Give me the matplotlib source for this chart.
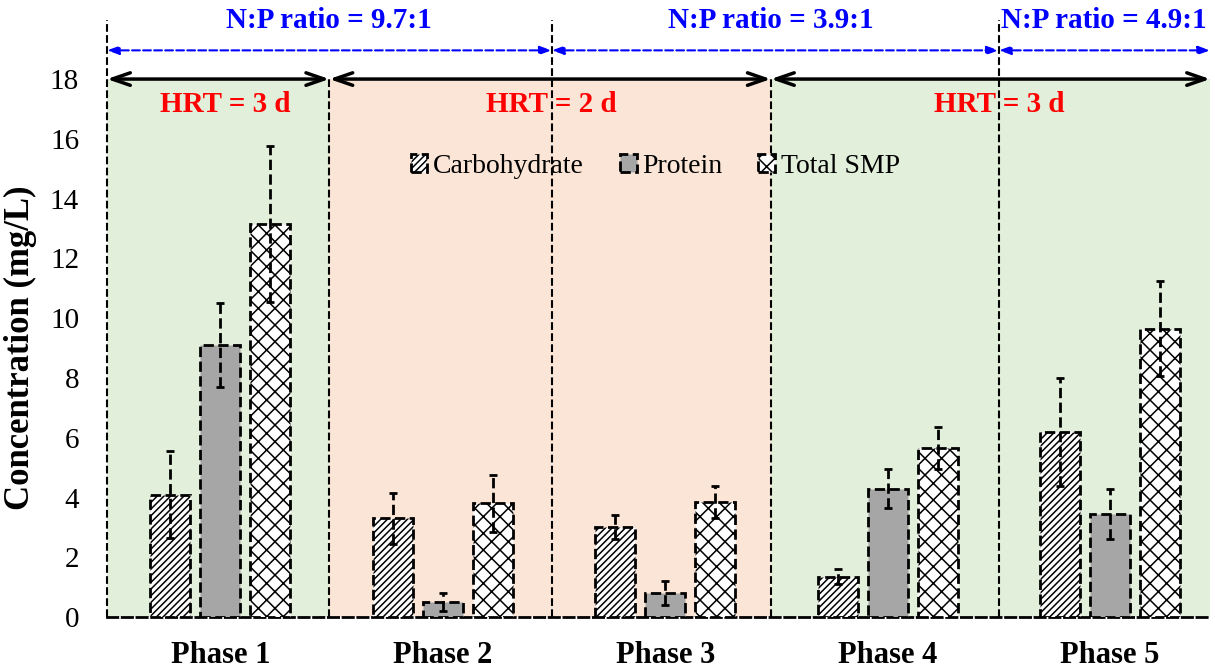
import numpy as np
import matplotlib.pyplot as plt

plt.rcParams['font.family'] = ['Liberation Serif', 'DejaVu Serif']
plt.rcParams['hatch.linewidth'] = 1.1

phases = ['Phase 1', 'Phase 2', 'Phase 3', 'Phase 4', 'Phase 5']
carb = [4.1, 3.3, 3.0, 1.35, 6.2]
carb_err = [1.45, 0.85, 0.4, 0.25, 1.8]
protein = [9.1, 0.5, 0.8, 4.3, 3.45]
protein_err = [1.4, 0.3, 0.4, 0.65, 0.85]
total = [13.15, 3.8, 3.85, 5.65, 9.65]
total_err = [2.6, 0.95, 0.55, 0.7, 1.6]

hrt_labels = ['HRT = 3 d', 'HRT = 2 d', 'HRT = 3 d']
np_labels = ['N:P ratio = 9.7:1', 'N:P ratio = 3.9:1', 'N:P ratio = 4.9:1']

x = np.arange(len(phases))
xmin, xmax = -0.51, 4.45
hrt_edges = [xmin, 0.49, 2.475, xmax]
np_edges = [xmin, 1.49, 3.5, xmax]

fig = plt.figure(figsize=(12.15, 6.7), dpi=100)
ax = fig.add_axes([0.088, 0.079, 0.908, 0.803])

# shaded HRT periods
bg = ['#E2EFDA', '#FBE5D6', '#E2EFDA']
for i in range(3):
    ax.axvspan(hrt_edges[i], hrt_edges[i + 1], color=bg[i], zorder=0, lw=0)

w = 0.18
d = 0.225
series = [
    (carb, carb_err, 'Carbohydrate', 'white', '/////'),
    (protein, protein_err, 'Protein', '#A6A6A6', None),
    (total, total_err, 'Total SMP', 'white', 'xx'),
]
for k, (vals, errs, lab, fc, hatch) in enumerate(series):
    xs = x + (k - 1) * d
    ax.bar(xs, vals, w, color=fc, hatch=hatch, edgecolor='black',
           linestyle='--', linewidth=2, label=lab, zorder=3)
    eb = ax.errorbar(xs, vals, yerr=errs, fmt='none', ecolor='black',
                     elinewidth=2, capsize=3, capthick=2, zorder=4)
    eb[2][0].set_linestyle('--')

ax.set_xlim(xmin, xmax)
ax.set_ylim(0, 18)
ax.set_yticks(np.arange(0, 19, 2))
ax.set_xticks(x)
ax.set_xticklabels(phases, fontsize=22, fontweight='bold')
ax.tick_params(axis='x', length=0, pad=17)
ax.tick_params(axis='y', length=0, labelsize=21, pad=20)
ax.set_ylabel('Concentration (mg/L)', fontsize=25, fontweight='bold')
ax.yaxis.set_label_coords(-0.063, 0.5)

for s in ['top', 'right', 'left']:
    ax.spines[s].set_visible(False)
ax.spines['bottom'].set_linestyle('--')
ax.spines['bottom'].set_linewidth(2)

# vertical dividers
for xv in [xmin, np_edges[1], np_edges[2]]:
    ax.plot([xv, xv], [0, 19.97], color='black', ls='--', lw=1.5,
            clip_on=False, zorder=2)
for xv in [hrt_edges[1], hrt_edges[2]]:
    ax.plot([xv, xv], [0, 18], color='black', ls='--', lw=1.5,
            clip_on=False, zorder=2)

# HRT arrows and labels
for i in range(3):
    ax.annotate('', xy=(hrt_edges[i + 1], 18), xytext=(hrt_edges[i], 18),
                arrowprops=dict(arrowstyle='<->,head_length=1.3,head_width=0.45',
                                color='black', lw=2.5, shrinkA=0, shrinkB=0),
                annotation_clip=False, zorder=5)
hrt_pos = [0.02, 1.49, 3.5]
for xp, t in zip(hrt_pos, hrt_labels):
    ax.text(xp, 17.15, t, color='red', fontsize=21, fontweight='bold',
            ha='center', va='center')

# N:P ratio arrows and labels
for i in range(3):
    ax.annotate('', xy=(np_edges[i + 1], 18.96), xytext=(np_edges[i], 18.96),
                arrowprops=dict(arrowstyle='<|-|>,head_length=0.7,head_width=0.25',
                                color='blue', lw=1.5, ls='--',
                                shrinkA=0, shrinkB=0),
                annotation_clip=False)
np_pos = [0.49, 2.475, 3.97]
for xp, t in zip(np_pos, np_labels):
    ax.text(xp, 19.95, t, color='blue', fontsize=21, fontweight='bold',
            ha='center', va='center', clip_on=False)

ax.legend(loc='upper center', bbox_to_anchor=(0.497, 0.908), ncol=3, frameon=False,
          fontsize=20, handlelength=0.6, handleheight=0.6, handletextpad=0.2,
          columnspacing=1.3)

fig.savefig('out.png', dpi=100)
